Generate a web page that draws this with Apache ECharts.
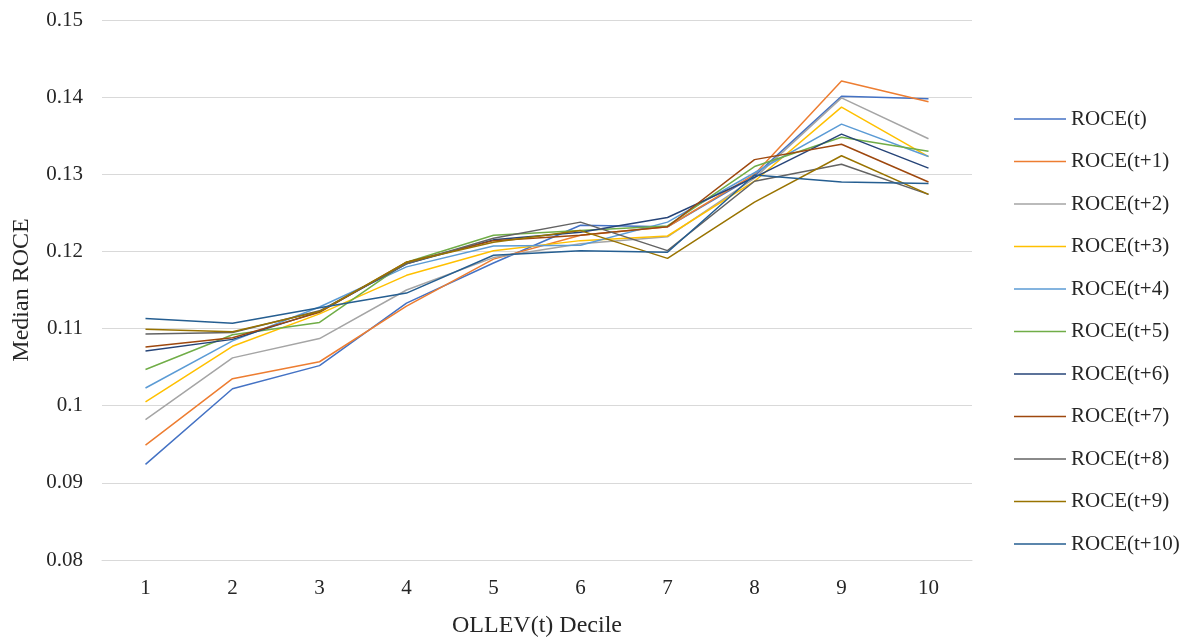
<!DOCTYPE html>
<html>
<head>
<meta charset="utf-8">
<title>Median ROCE by OLLEV(t) Decile</title>
<script src="https://cdn.jsdelivr.net/npm/echarts@6/dist/echarts.min.js"></script>
<style>
  html, body { margin: 0; padding: 0; background: #ffffff; }
  #chart { width: 1203px; height: 643px; }
</style>
</head>
<body>
<div id="chart"></div>
<script>
// Deciles of OLLEV(t)
const deciles = ['1', '2', '3', '4', '5', '6', '7', '8', '9', '10'];

// Median ROCE per decile, current year and the following ten years
const roceT   = [0.0924, 0.1022, 0.1052, 0.1133, 0.1185, 0.1234, 0.1232, 0.1298, 0.1401, 0.1398];
const roceT1  = [0.0949, 0.1035, 0.1057, 0.1129, 0.1190, 0.1221, 0.1232, 0.1300, 0.1421, 0.1394];
const roceT2  = [0.0982, 0.1062, 0.1087, 0.1150, 0.1192, 0.1210, 0.1219, 0.1295, 0.1399, 0.1346];
const roceT3  = [0.1005, 0.1077, 0.1119, 0.1169, 0.1201, 0.1214, 0.1220, 0.1291, 0.1387, 0.1323];
const roceT4  = [0.1023, 0.1084, 0.1128, 0.1180, 0.1207, 0.1208, 0.1238, 0.1302, 0.1365, 0.1323];
const roceT5  = [0.1047, 0.1092, 0.1108, 0.1186, 0.1221, 0.1227, 0.1233, 0.1310, 0.1348, 0.1330];
const roceT6  = [0.1071, 0.1086, 0.1122, 0.1184, 0.1215, 0.1225, 0.1244, 0.1296, 0.1352, 0.1308];
const roceT7  = [0.1076, 0.1088, 0.1121, 0.1186, 0.1214, 0.1221, 0.1232, 0.1319, 0.1339, 0.1290];
const roceT8  = [0.1093, 0.1095, 0.1123, 0.1184, 0.1217, 0.1238, 0.1201, 0.1291, 0.1313, 0.1274];
const roceT9  = [0.1099, 0.1096, 0.1122, 0.1186, 0.1212, 0.1227, 0.1191, 0.1264, 0.1324, 0.1274];
const roceT10 = [0.1113, 0.1107, 0.1127, 0.1146, 0.1195, 0.1201, 0.1199, 0.1299, 0.1290, 0.1288];

const seriesNames = ['ROCE(t)', 'ROCE(t+1)', 'ROCE(t+2)', 'ROCE(t+3)', 'ROCE(t+4)', 'ROCE(t+5)',
                     'ROCE(t+6)', 'ROCE(t+7)', 'ROCE(t+8)', 'ROCE(t+9)', 'ROCE(t+10)'];
const seriesValues = [roceT, roceT1, roceT2, roceT3, roceT4, roceT5, roceT6, roceT7, roceT8, roceT9, roceT10];
const seriesColors = ['#4472C4', '#ED7D31', '#A5A5A5', '#FFC000', '#5B9BD5', '#70AD47',
                      '#264478', '#9E480E', '#636363', '#997300', '#255E91'];

const FONT = '"Liberation Serif", "DejaVu Serif", serif';
const TEXT = '#262626';

const chart = echarts.init(document.getElementById('chart'), null, { renderer: 'canvas' });

chart.setOption({
  backgroundColor: '#ffffff',
  animation: false,
  color: seriesColors,
  grid: { left: 102, right: 231, top: 20, bottom: 81 },
  legend: {
    orient: 'vertical',
    left: 1014,
    top: 108,
    padding: 0,
    icon: 'rect',
    itemWidth: 52,
    itemHeight: 1.5,
    itemGap: 20.5,
    textStyle: { fontFamily: FONT, fontSize: 21, color: TEXT, lineHeight: 22 },
    data: seriesNames
  },
  xAxis: {
    type: 'category',
    data: deciles,
    boundaryGap: true,
    name: 'OLLEV(t) Decile',
    nameLocation: 'middle',
    nameGap: 54,
    nameTextStyle: { fontFamily: FONT, fontSize: 24, color: TEXT },
    axisLine: { lineStyle: { color: '#d9d9d9', width: 1 } },
    axisTick: { show: false },
    axisLabel: { fontFamily: FONT, fontSize: 21, color: TEXT, margin: 18 }
  },
  yAxis: {
    type: 'value',
    min: 0.08,
    max: 0.15,
    interval: 0.01,
    name: 'Median ROCE',
    nameLocation: 'middle',
    nameGap: 68,
    nameTextStyle: { fontFamily: FONT, fontSize: 24, color: TEXT },
    axisLine: { show: false },
    axisTick: { show: false },
    splitLine: { lineStyle: { color: '#d9d9d9', width: 1 } },
    axisLabel: {
      fontFamily: FONT, fontSize: 21, color: TEXT, margin: 19,
      formatter: v => String(parseFloat(v.toFixed(2)))
    }
  },
  series: seriesNames.map((name, i) => ({
    name: name,
    type: 'line',
    data: seriesValues[i],
    symbol: 'none',
    smooth: false,
    lineStyle: { width: 1.5, color: seriesColors[i] },
    itemStyle: { color: seriesColors[i] }
  }))
});
</script>
</body>
</html>
